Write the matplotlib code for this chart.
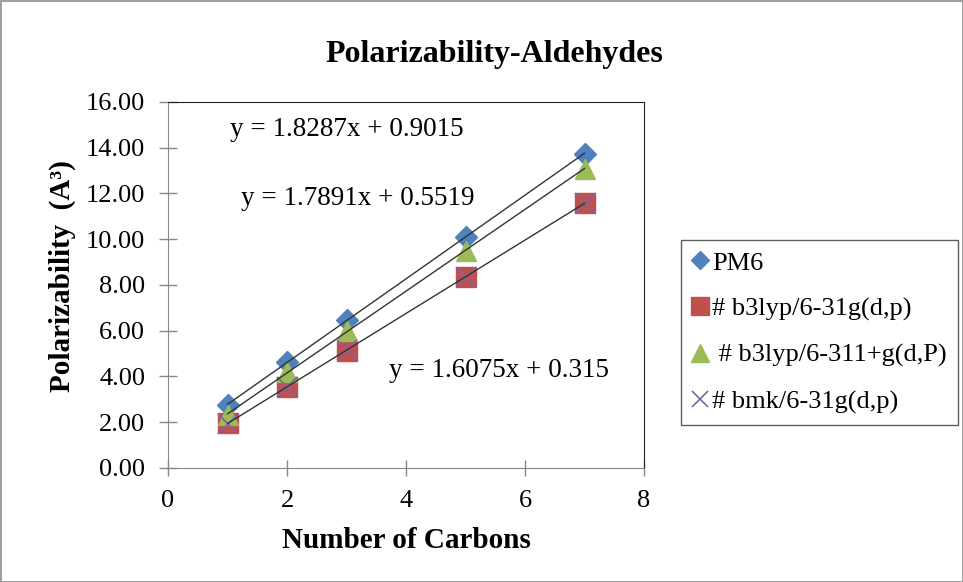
import matplotlib
matplotlib.use("Agg")
import matplotlib.pyplot as plt
import numpy as np

carbons = [1, 2, 3, 5, 7]
pm6 = [2.74, 4.63, 6.48, 10.10, 13.74]
b3lyp_631 = [1.95, 3.56, 5.13, 8.35, 11.58]
b3lyp_6311 = [2.30, 4.20, 6.00, 9.50, 13.08]
bmk_631 = [1.93, 3.55, 5.14, 8.34, 11.57]

labels = ["PM6", "# b3lyp/6-31g(d,p)", " # b3lyp/6-311+g(d,P)", "# bmk/6-31g(d,p)"]
equations = ["y = 1.8287x + 0.9015", "y = 1.7891x + 0.5519", "y = 1.6075x + 0.315"]
eq_pos = [(3.0, 14.51), (3.19, 11.50), (5.56, 3.98)]

plt.rcParams['font.family'] = ['Liberation Serif', 'DejaVu Serif']

fig = plt.figure(figsize=(9.63, 5.82), dpi=100)
fig.patch.set_edgecolor('#a0a0a0')
fig.patch.set_linewidth(2)
ax = fig.add_axes([0.1745, 0.1959, 0.4943, 0.6289])

x = np.array(carbons)
ax.plot(x, pm6, 'D', color='#4F81BD', markersize=11, label=labels[0], zorder=3)
ax.plot(x, b3lyp_631, 's', color='#C0504D', markersize=15, label=labels[1], zorder=3)
ax.plot(x, b3lyp_6311, '^', color='#9BBB59', markersize=15, label=labels[2], zorder=4)
ax.plot(x, bmk_631, 'x', color='#8064A2', markersize=14, markeredgewidth=1.2,
        label=labels[3], zorder=5)

# linear trendlines
for ys in [pm6, b3lyp_6311, b3lyp_631]:
    m, b = np.polyfit(x, ys, 1)
    ax.plot([1, 7], [m * 1 + b, m * 7 + b], color='#333333', linewidth=1.0, zorder=6)

for eq, (ex, ey) in zip(equations, eq_pos):
    ax.text(ex, ey, eq, fontsize=19.5, ha='center', va='baseline')

ax.set_xlim(0, 8)
ax.set_ylim(0, 16)
ax.set_xticks([0, 2, 4, 6, 8])
ax.set_yticks(np.arange(0, 17, 2))
ax.set_yticklabels(["%.2f" % v for v in np.arange(0, 17, 2)])
ax.tick_params(direction='inout', color='#888888', labelsize=19, width=1, pad=10)
ax.tick_params(axis='y', length=13)
ax.tick_params(axis='x', length=12)
for s in ['left', 'bottom']:
    ax.spines[s].set_color('#888888')
for s in ['top', 'right']:
    ax.spines[s].set_color('#222222')
    ax.spines[s].set_linewidth(0.8)

fig.text(0.513, 0.8935, "Polarizability-Aldehydes", fontsize=23, fontweight='bold',
         ha='center', va='baseline')
fig.text(0.422, 0.0584, "Number of Carbons", fontsize=21, fontweight='bold',
         ha='center', va='baseline')
fig.text(0.065, 0.526, "Polarizability  (A³)", fontsize=21, fontweight='bold',
         ha='center', va='center', rotation=90)

leg = fig.legend(loc='upper left', bbox_to_anchor=(0.7072, 0.5876), borderaxespad=0,
                 fontsize=19, frameon=True, fancybox=False, edgecolor='#333333',
                 handlelength=0.6, handletextpad=0.15, borderpad=0.42,
                 labelspacing=0.85, markerscale=0.85)
leg.get_frame().set_linewidth(1.0)

fig.savefig("out.png", dpi=100)
